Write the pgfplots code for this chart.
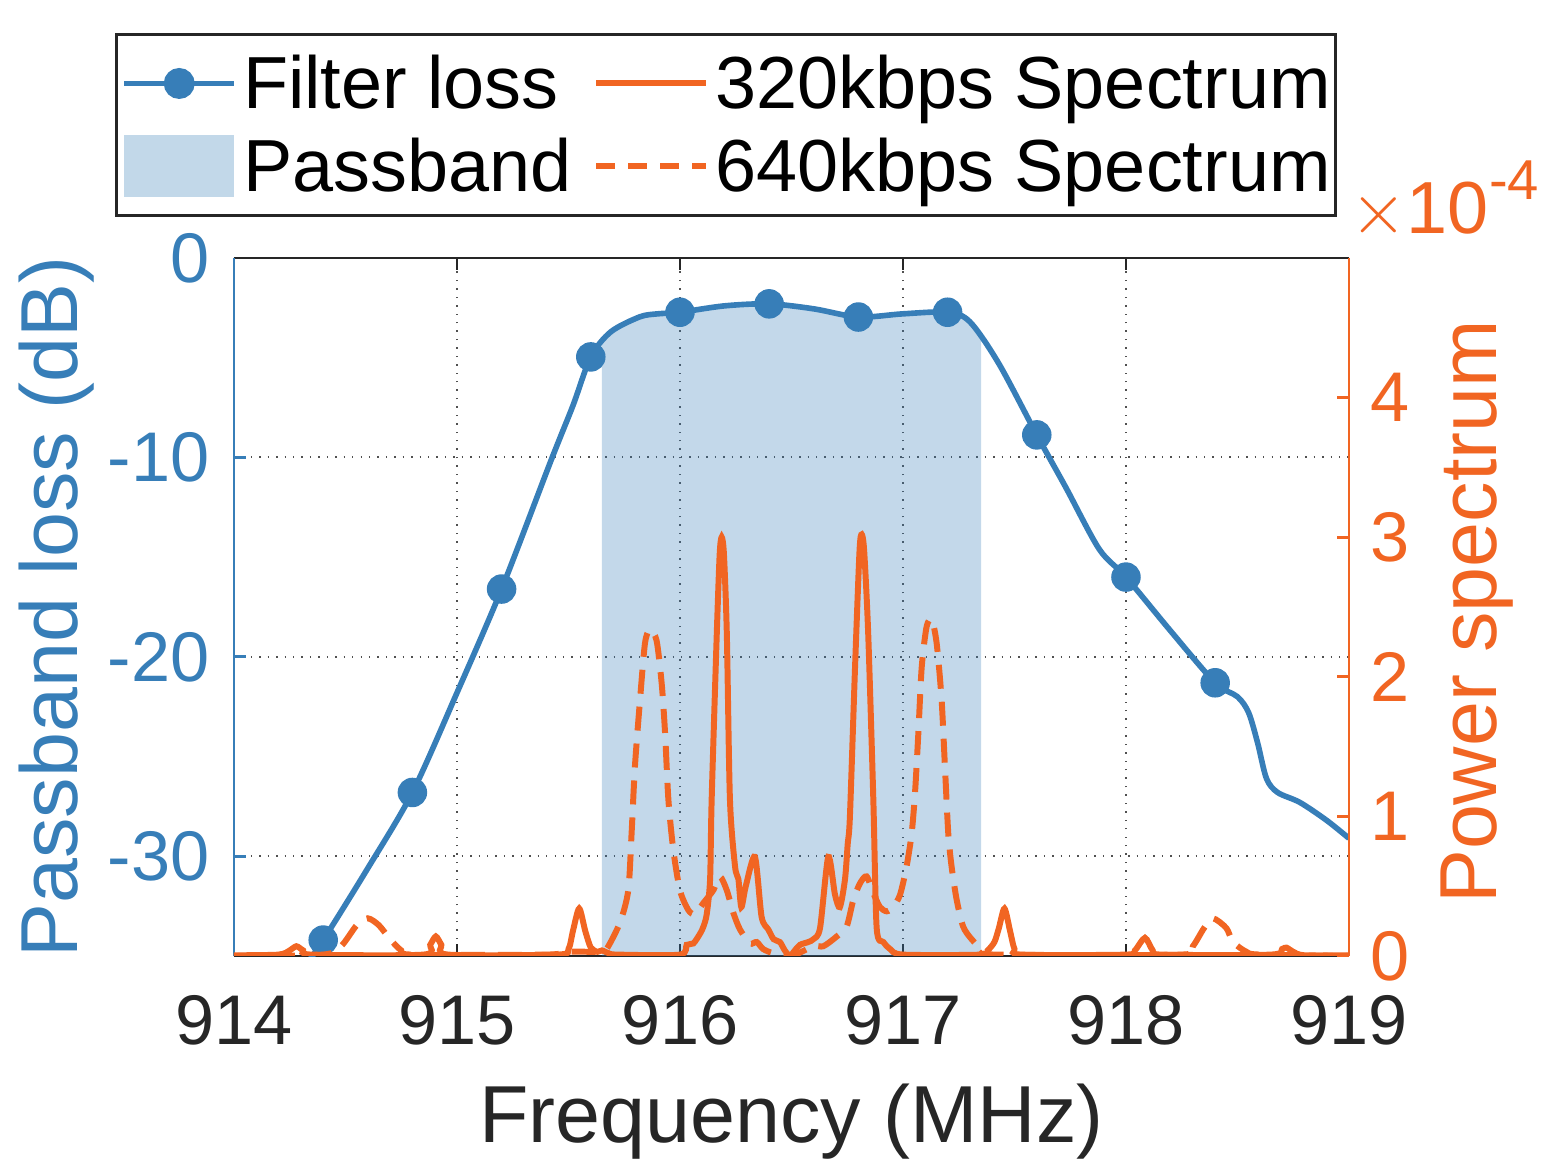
\documentclass[border=0pt]{standalone}
\usepackage{fontspec}
\setmainfont{Liberation Sans}
\usepackage{pgfplots}
\pgfplotsset{compat=1.18}
\definecolor{blueC}{RGB}{55,126,184}
\definecolor{orangeC}{RGB}{241,101,34}
\definecolor{gridC}{RGB}{80,80,80}
\definecolor{axC}{RGB}{38,38,38}
\begin{document}
\begin{tikzpicture}
\path[use as bounding box] (-23.4mm,-20.4mm) rectangle (131.2mm,95.6mm);
\begin{axis}[
  at={(0,0)}, anchor=south west,
  scale only axis, width=111.5mm, height=69.8mm,
  xmin=914, xmax=919, ymin=-35, ymax=0,
  axis y line*=left,
  xtick={914,915,916,917,918,919},
  xticklabels={914,915,916,917,918,919},
  ytick={-30,-20,-10,0},
  yticklabels={-30,-20,-10,0},
  grid=major,
  grid style={gridC, dotted, line width=0.6pt},
  tick align=inside,
  major tick length=1.2mm,
  x axis line style={axC, line width=0.8pt},
  y axis line style={blueC, line width=0.8pt},
  x tick style={axC, line width=0.8pt},
  y tick style={blueC, line width=0.8pt},
  xticklabel style={font=\fontsize{20}{24}\selectfont, text=axC, anchor=base, inner sep=0pt, yshift=-8.9mm},
  yticklabel style={font=\fontsize{20}{24}\selectfont, text=blueC, anchor=east, inner sep=0pt, xshift=-2.4mm},
  xlabel={Frequency (MHz)},
  ylabel={Passband loss (dB)},
  every axis x label/.style={at={(axis description cs:0.5,0)}, anchor=base, yshift=-18.6mm, font=\fontsize{23}{27}\selectfont, text=axC},
  every axis y label/.style={at={(axis description cs:-0.140,0.5)}, anchor=base, rotate=90, font=\fontsize{23}{27}\selectfont, text=blueC},
]
\addplot[fill=blueC, fill opacity=0.3, draw=none, forget plot] coordinates {
(915.65,-35) (915.65,-4.2) (915.69,-3.7) (915.75,-3.25) (915.82,-2.95) (915.9,-2.8)
(916.0,-2.72) (916.2,-2.4) (916.4,-2.3) (916.6,-2.55) (916.8,-2.96) (917.0,-2.8)
(917.2,-2.72) (917.3,-3.2) (917.35,-3.9) (917.35,-35)};
\addplot[blueC, line width=1.6pt, smooth, forget plot] coordinates {
(914.30,-35.8) (914.4,-34.2) (914.6,-30.6) (914.8,-26.8) (915.0,-21.8) (915.2,-16.6)
(915.42,-10.2) (915.52,-7.4) (915.6,-4.96) (915.69,-3.7) (915.82,-2.95) (915.9,-2.8)
(916.0,-2.72) (916.2,-2.4) (916.4,-2.3) (916.6,-2.55) (916.8,-2.96) (917.0,-2.8)
(917.2,-2.72) (917.3,-3.2) (917.43,-5.3) (917.6,-8.87) (917.73,-11.5) (917.88,-14.6)
(918.0,-16.0) (918.2,-18.7) (918.4,-21.3) (918.5,-22.0) (918.55,-22.8) (918.59,-24.3)
(918.63,-26.1) (918.68,-26.8) (918.78,-27.3) (918.9,-28.2) (919.0,-29.1)};
\addplot[only marks, mark=*, mark size=4pt, blueC, forget plot] coordinates {
(914.4,-34.2) (914.8,-26.8) (915.2,-16.6) (915.6,-4.96) (916.0,-2.72) (916.4,-2.3)
(916.8,-2.96) (917.2,-2.72) (917.6,-8.87) (918.0,-16.0) (918.4,-21.3)};
\end{axis}
\begin{axis}[
  at={(0,0)}, anchor=south west,
  scale only axis, width=111.5mm, height=69.8mm,
  xmin=914, xmax=919, ymin=0, ymax=5,
  clip mode=individual,
  axis y line*=right, axis x line=none,
  ytick={0,1,2,3,4}, yticklabels={0,1,2,3,4},
  tick align=inside, major tick length=1.2mm,
  y axis line style={orangeC, line width=0.8pt},
  y tick style={orangeC, line width=0.8pt},
  yticklabel style={font=\fontsize{20}{24}\selectfont, text=orangeC, anchor=west, inner sep=0pt, xshift=2.1mm},
  ylabel={Power spectrum},
  every axis y label/.style={at={(axis description cs:1.1327,0.493)}, anchor=base, rotate=90, font=\fontsize{23}{27}\selectfont, text=orangeC},
  legend columns=2,
  legend cell align=left,
  legend image code/.code={\draw[mark repeat=2,mark phase=2,#1] plot coordinates {(0mm,0mm) (5.5mm,0mm) (11mm,0mm)};},
  legend style={
    at={(axis description cs:-0.1067,1.3223)}, anchor=north west,
    draw=axC, line width=0.8pt, fill=white,
    font=\fontsize{21}{25}\selectfont,
    inner xsep=0.5mm, inner ysep=0.75mm,
    nodes={inner sep=0pt, text height=6.67mm, text depth=1.63mm},
    column sep=0.6mm,
    /tikz/every even column/.append style={column sep=2.2mm},
  },
]
\addlegendimage{blueC, line width=1.6pt, mark=*, mark size=3.6pt}
\addlegendentry{Filter loss}
\addlegendimage{orangeC, line width=1.7pt}
\addlegendentry{320kbps Spectrum}
\addlegendimage{legend image code/.code={\path[fill=blueC, fill opacity=0.3, draw=none] (0mm,-3.1mm) rectangle (11mm,3.1mm);}}
\addlegendentry{Passband}
\addlegendimage{orangeC, line width=1.7pt, dash pattern=on 1.9mm off 1.3mm}
\addlegendentry{640kbps Spectrum}
% 640 kbps (dashed)
\addplot[orangeC, line width=1.7pt, dash pattern=on 2.4mm off 1.3mm, smooth, tension=0.45, forget plot] coordinates {
(914.0,0.0) (914.4,0.01) (914.48,0.07) (914.55,0.22) (914.6,0.27) (914.65,0.22) (914.7,0.12)
(914.75,0.04) (914.8,0.01) (915.4,0.01) (915.5,0.03) (915.6,0.03) (915.64,0.03)
(915.671,0.05) (915.731,0.24) (915.768,0.47) (915.783,0.88) (915.798,1.36) (915.821,1.84)
(915.843,2.24) (915.865,2.34) (915.895,2.26) (915.918,1.95) (915.933,1.6) (915.948,1.12)
(915.97,0.76) (916.0,0.47) (916.037,0.33) (916.067,0.30) (916.105,0.38) (916.149,0.47)
(916.179,0.57) (916.21,0.47) (916.239,0.31) (916.269,0.19) (916.314,0.09) (916.344,0.1)
(916.373,0.05) (916.418,0.02) (916.5,0.0) (916.598,0.07) (916.643,0.07) (916.703,0.14)
(916.747,0.21) (916.777,0.4) (916.807,0.52) (916.837,0.57) (916.867,0.45) (916.897,0.35)
(916.927,0.32) (916.956,0.35) (916.987,0.44) (917.016,0.64) (917.039,0.88) (917.054,1.17)
(917.069,1.6) (917.084,2.07) (917.106,2.36) (917.129,2.41) (917.151,2.24) (917.173,1.84)
(917.188,1.36) (917.203,0.88) (917.218,0.64) (917.241,0.4) (917.27,0.21) (917.308,0.12)
(917.36,0.04) (917.42,0.01) (918.25,0.01) (918.3,0.07) (918.35,0.2) (918.39,0.27)
(918.45,0.2) (918.48,0.1) (918.54,0.03) (918.6,0.01) (919.0,0.0)};
% 320 kbps (solid)
\addplot[orangeC, line width=1.7pt, smooth, tension=0.45, forget plot] coordinates {
(914.0,0.005) (914.2,0.01) (914.25,0.04) (914.28,0.07) (914.31,0.04) (914.35,0.01)
(914.85,0.01) (914.88,0.08) (914.905,0.14) (914.93,0.08) (914.96,0.01) (915.45,0.01)
(915.5,0.05) (915.52,0.18) (915.548,0.34) (915.575,0.18) (915.6,0.06) (915.63,0.03)
(915.65,0.04) (915.68,0.02) (915.72,0.01) (916.0,0.01) (916.03,0.08) (916.06,0.09)
(916.09,0.16) (916.105,0.21) (916.12,0.3) (916.135,0.55) (916.142,1.12) (916.165,2.31)
(916.178,2.88) (916.187,3.0) (916.197,2.88) (916.21,2.31) (916.224,1.12) (916.247,0.64) (916.262,0.55) (916.275,0.35)
(916.295,0.5) (916.336,0.71) (916.366,0.28) (916.396,0.19) (916.42,0.12) (916.448,0.1)
(916.47,0.04) (916.493,0.0) (916.515,0.04) (916.538,0.08) (916.575,0.1) (916.598,0.12)
(916.628,0.2) (916.665,0.71) (916.695,0.44) (916.717,0.35) (916.74,0.55) (916.752,0.8)
(916.762,1.0) (916.785,2.07) (916.805,2.9) (916.815,3.02) (916.826,2.9) (916.844,2.31) (916.867,1.12) (916.882,0.2)
(916.912,0.1) (916.942,0.05) (917.0,0.01) (917.35,0.01) (917.38,0.04) (917.41,0.1)
(917.43,0.2) (917.455,0.34) (917.48,0.18) (917.5,0.05) (917.53,0.01) (918.0,0.01)
(918.04,0.04) (918.085,0.13) (918.12,0.04) (918.16,0.01) (918.65,0.01) (918.7,0.05)
(918.72,0.06) (918.75,0.03) (918.8,0.005) (919.0,0.005)};
\node[anchor=base west, text=orangeC, font=\fontsize{21}{25}\selectfont, inner sep=0pt] at (axis description cs:1.0005,1.0358) {$\times$10\raisebox{3.4mm}{\fontsize{16}{16}\selectfont -4}};
\end{axis}
\end{tikzpicture}
\end{document}
